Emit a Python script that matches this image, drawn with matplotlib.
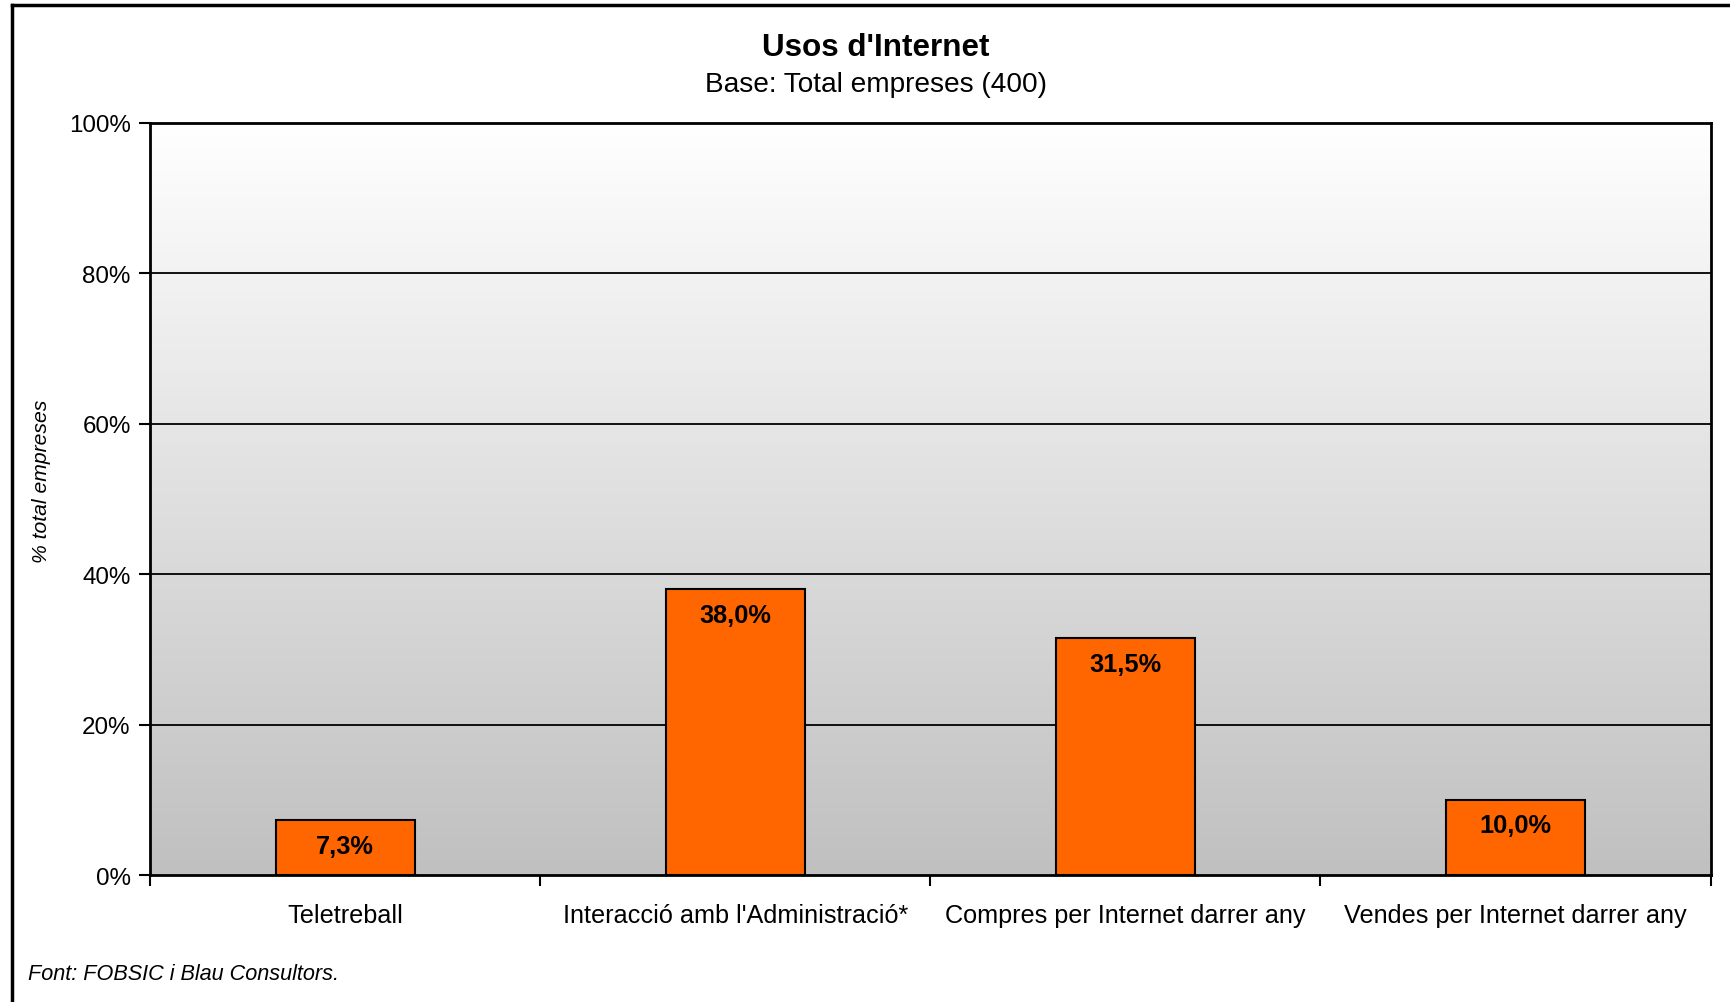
import numpy as np
import matplotlib.pyplot as plt
from matplotlib.colors import LinearSegmentedColormap
from matplotlib.lines import Line2D

categories = ["Teletreball", "Interacció amb l'Administració*",
              "Compres per Internet darrer any", "Vendes per Internet darrer any"]
valors = [7.3, 38.0, 31.5, 10.0]
etiquetes = ["7,3%", "38,0%", "31,5%", "10,0%"]
yticks = [0, 20, 40, 60, 80, 100]

plt.rcParams['font.family'] = ['Liberation Sans', 'DejaVu Sans']

fig = plt.figure(figsize=(17.31, 10.03), dpi=100)
ax = fig.add_axes([0.0867, 0.1266, 0.9015, 0.7498])

# fons degradat blanc -> gris
grad = np.linspace(0, 1, 256).reshape(-1, 1)
cmap = LinearSegmentedColormap.from_list('g', ['#C0C0C0', '#FFFFFF'])
ax.imshow(grad, extent=[-0.5, 3.5, 0, 100], aspect='auto', cmap=cmap,
          origin='lower', zorder=0)

for y in yticks[1:-1]:
    ax.axhline(y, color='black', linewidth=1.3, zorder=1)

x = np.arange(len(categories))
ax.bar(x, valors, width=0.357, color='#FF6600', edgecolor='black', linewidth=1.5, zorder=2)

for xi, v, t in zip(x, valors, etiquetes):
    ax.text(xi, v - 1.8, t, ha='center', va='top', fontsize=18.3, fontweight='bold', zorder=3)

ax.set_xlim(-0.5, 3.5)
ax.set_ylim(0, 100)
ax.set_yticks(yticks)
ax.set_yticklabels([f"{v}%" for v in yticks], fontsize=17.4)
ax.set_xticks(x)
ax.set_xticklabels(categories, fontsize=18.2)
ax.set_xticks(np.arange(-0.5, 4.0, 1.0), minor=True)
ax.tick_params(axis='x', which='major', length=0, pad=20)
ax.tick_params(axis='x', which='minor', length=8, width=1.5, direction='out')
ax.tick_params(axis='y', length=8, width=1.5, direction='out', pad=6)
for s in ax.spines.values():
    s.set_linewidth(2)

fig.text(0.024, 0.52, "% total empreses", rotation=90, ha='center', va='center',
         fontsize=15.2, style='italic')

fig.text(0.506, 0.952, "Usos d'Internet", ha='center', va='center', fontsize=22.6, fontweight='bold')
fig.text(0.506, 0.915, "Base: Total empreses (400)", ha='center', va='center', fontsize=20.2)
fig.text(0.016, 0.028, "Font: FOBSIC i Blau Consultors.", ha='left', va='center', fontsize=15.6, style='italic')

# vora de la figura (superior i esquerra)
fig.add_artist(Line2D([0.007, 1.0], [0.9945, 0.9945], color='black', linewidth=2.5, transform=fig.transFigure))
fig.add_artist(Line2D([0.007, 0.007], [0.0, 0.9945], color='black', linewidth=2.5, transform=fig.transFigure))

fig.savefig("out.png", dpi=100)
